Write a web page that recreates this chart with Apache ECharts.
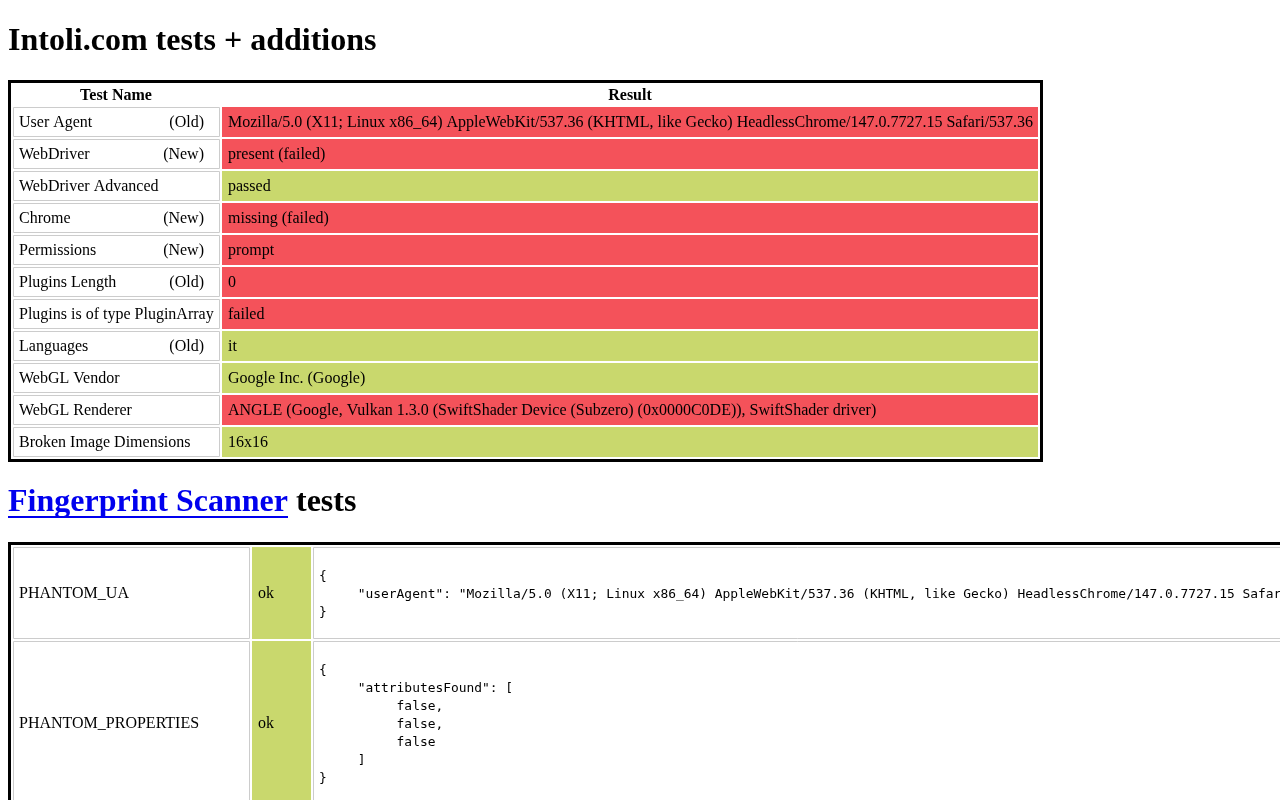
<!DOCTYPE html>
<html><head><meta charset="utf-8">
<script src="https://cdn.jsdelivr.net/npm/echarts@6/dist/echarts.min.js"></script>
<style>html,body{margin:0;padding:0;background:#fff}#c{width:1280px;height:800px}</style>
</head><body><div id="c"></div>
<script>
const testNames = ["User Agent","WebDriver","WebDriver Advanced","Chrome","Permissions","Plugins Length","Plugins is of type PluginArray","Languages","WebGL Vendor","WebGL Renderer","Broken Image Dimensions"];
const testTags = ["(Old)","(New)","","(New)","(New)","(Old)","","(Old)","","",""];
const testResults = ["Mozilla/5.0 (X11; Linux x86_64) AppleWebKit/537.36 (KHTML, like Gecko) HeadlessChrome/147.0.7727.15 Safari/537.36","present (failed)","passed","missing (failed)","prompt","0","failed","it","Google Inc. (Google)","ANGLE (Google, Vulkan 1.3.0 (SwiftShader Device (Subzero) (0x0000C0DE)), SwiftShader driver)","16x16"];
const testPassed = [false,false,true,false,false,false,false,true,true,false,true];
const fpNames = ["PHANTOM_UA","PHANTOM_PROPERTIES"];
const fpStatus = ["ok","ok"];
const fpDetails = [
 ["{","     \"userAgent\": \"Mozilla/5.0 (X11; Linux x86_64) AppleWebKit/537.36 (KHTML, like Gecko) HeadlessChrome/147.0.7727.15 Safari/537.36\"","}"],
 ["{","     \"attributesFound\": [","          false,","          false,","          false","     ]","}"]
];
const RED="#f4525a", GREEN="#c9d86d", SERIF="'Liberation Serif','Times New Roman',serif", MONO="'DejaVu Sans Mono',monospace";
const g=[];
function txt(x,y,s,o){g.push({type:'text',x:x,y:y,style:Object.assign({text:s,font:'16px '+SERIF,fill:'#000',verticalAlign:'middle'},o||{})});}
function rect(x,y,w,h,fill,stroke,lw){g.push({type:'rect',shape:{x:x,y:y,width:w,height:h},style:{fill:fill||'none',stroke:stroke||null,lineWidth:lw||1}});}
txt(8,41.5,"Intoli.com tests + additions",{font:'bold 32px '+SERIF});
rect(9.5,81.5,1032,379,null,'#000',3);
txt(116,96,"Test Name",{font:'bold 16px '+SERIF,align:'center'});
txt(630,96,"Result",{font:'bold 16px '+SERIF,align:'center'});
testNames.forEach((n,i)=>{
  const y=107+i*32;
  rect(13.5,y+0.5,206,29,'#fff','#ccc',1);
  rect(222,y,816,30,testPassed[i]?GREEN:RED);
  txt(19,y+16,n);
  if(testTags[i]) txt(204,y+16,testTags[i],{align:'right'});
  txt(228,y+16,testResults[i]);
});
txt(8,503,"Fingerprint Scanner",{font:'bold 32px '+SERIF,fill:'#0000ee'});
g.push({type:'rect',shape:{x:8,y:516,width:280,height:2},style:{fill:'#0000ee'}});
txt(296,503,"tests",{font:'bold 32px '+SERIF});
rect(9.5,543.5,1300,400,null,'#000',3);
let y0=547;
fpNames.forEach((n,i)=>{
  const lines=fpDetails[i], h=Math.max(92,lines.length*18+38);
  rect(13.5,y0+0.5,236,h-1,'#fff','#ccc',1);
  rect(252,y0,59,h,GREEN);
  rect(313.5,y0+0.5,1000,h-1,'#fff','#ccc',1);
  txt(19,y0+h/2+1,n);
  txt(258,y0+h/2+1,fpStatus[i]);
  const start=y0+h/2-(lines.length-1)*9+2;
  lines.forEach((l,k)=>txt(319,start+k*18,l,{font:'12.9px '+MONO}));
  y0+=h+2;
});
const c=echarts.init(document.getElementById('c'));
c.setOption({animation:false,graphic:g});
</script></body></html>
